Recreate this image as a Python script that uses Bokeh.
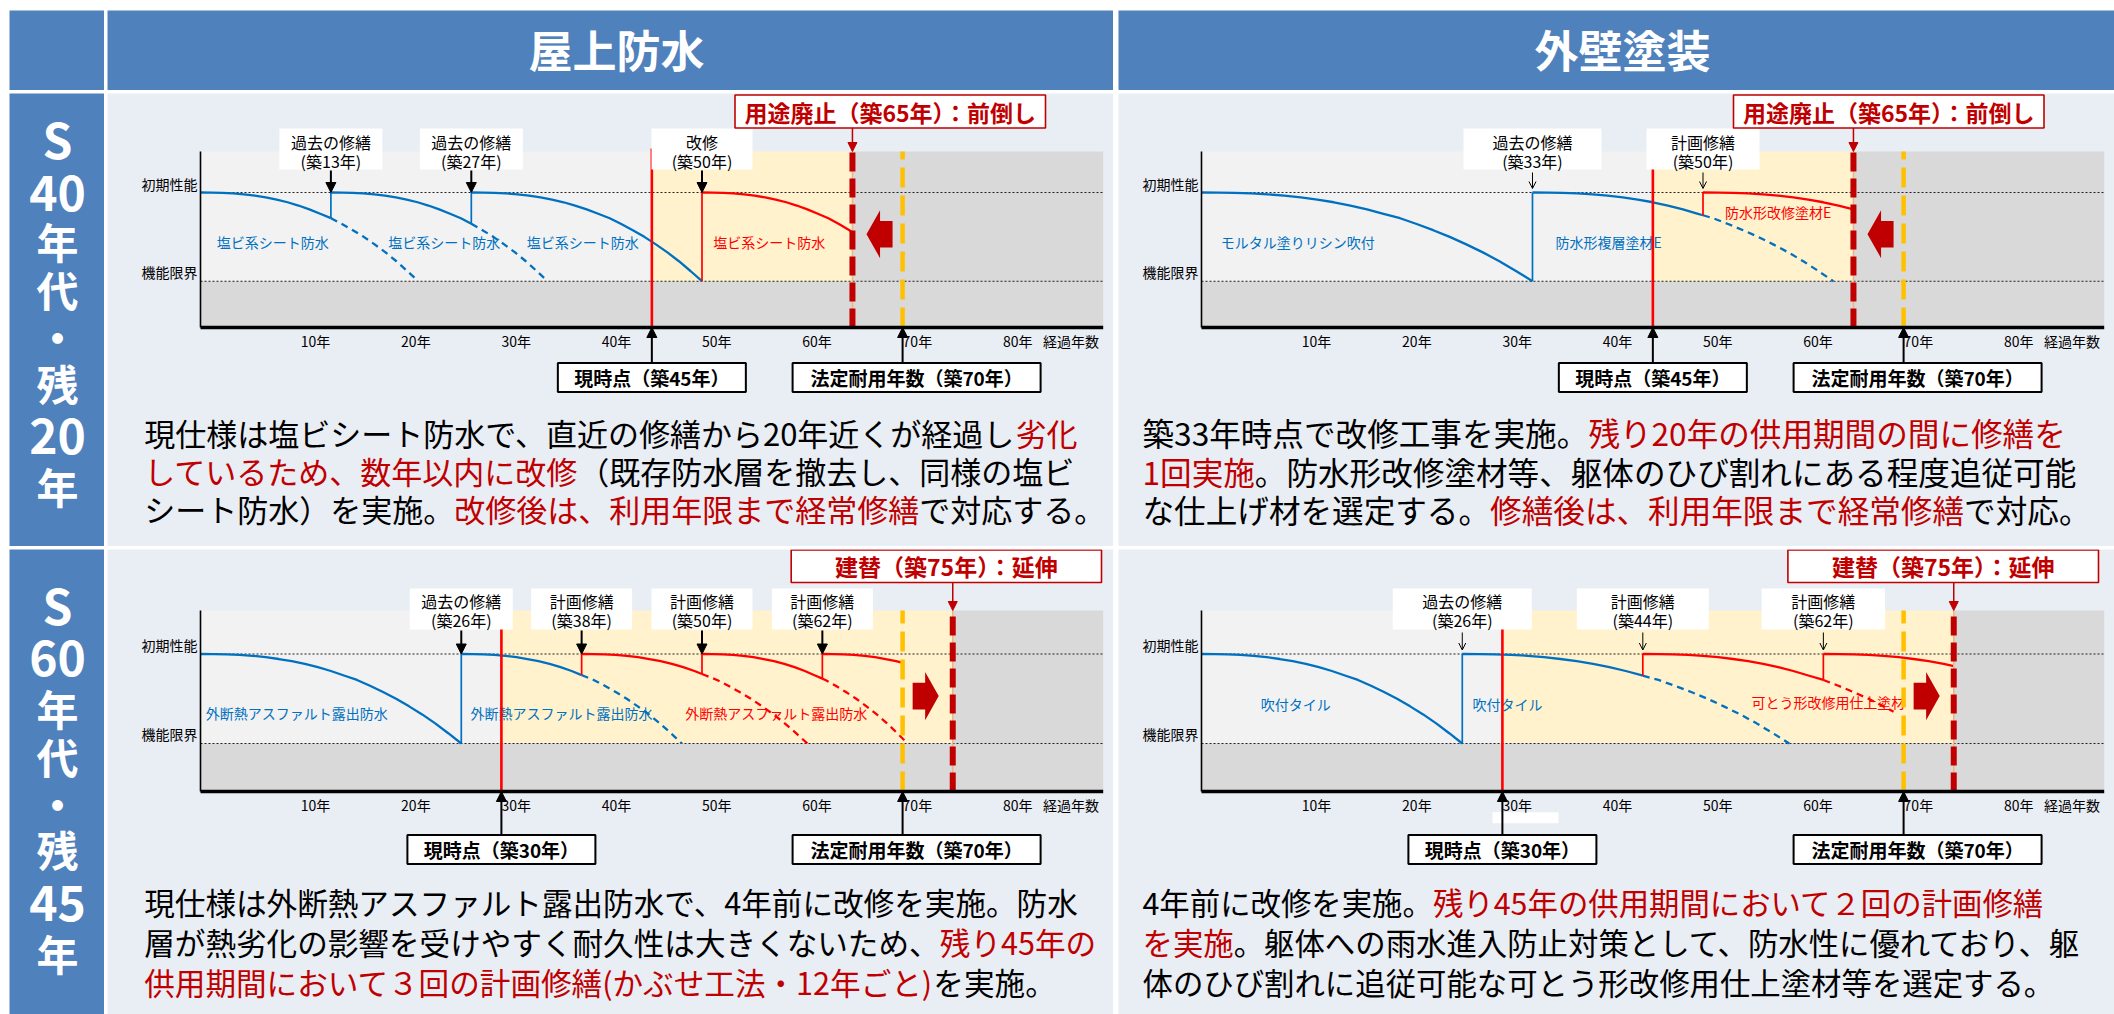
import numpy as np
from bokeh.core.properties import value
from bokeh.embed import file_html
from bokeh.layouts import column, row
from bokeh.models import Arrow, NormalHead, OpenHead, Range1d, Spacer
from bokeh.plotting import figure
from bokeh.resources import INLINE

# ---------------------------------------------------------------- values
COLUMN_TITLES = ["屋上防水", "外壁塗装"]
ROW_TITLES = [["S", "40", "年", "代", "・", "残", "20", "年"],
              ["S", "60", "年", "代", "・", "残", "45", "年"]]

YEAR_TICKS = [10, 20, 30, 40, 50, 60, 70, 80]
YEAR_TICK_LABELS = ["10年", "20年", "30年", "40年", "50年", "60年", "70年", "80年"]
LEGAL_LIFE = 70

# ageing profile of one finish layer: share of its life used -> performance
# (1 = initial performance, 0 = functional limit)
AGE_SHARE = [0.0, 0.05, 0.1, 0.15, 0.2, 0.25, 0.3, 0.35, 0.4, 0.45, 0.5,
             0.55, 0.6, 0.65, 0.7, 0.75, 0.8, 0.85, 0.9, 0.95, 1.0]
PERFORMANCE = [1.0, 0.999, 0.996, 0.99, 0.98, 0.964, 0.944, 0.92, 0.89, 0.853, 0.81,
               0.76, 0.71, 0.645, 0.575, 0.50, 0.415, 0.325, 0.225, 0.115, 0.0]

# 屋上防水 / S40年代
ROOF40_NOW, ROOF40_END = 45, 65
ROOF40_START = [0, 13, 27, 50]
ROOF40_STOP = [13, 27, 50, 65]
ROOF40_LIFE = [21.7, 21.6, 23.0, 21.0]
ROOF40_DASH_TO = [21.7, 34.6, None, None]
ROOF40_PLANNED = [False, False, False, True]
ROOF40_REPAIR = ["過去の修繕", "過去の修繕", "改修"]
ROOF40_LAYER = ["塩ビ系シート防水", "塩ビ系シート防水", "塩ビ系シート防水", "塩ビ系シート防水"]
ROOF40_LAYER_PLANNED = [False, False, False, True]
ROOF40_NOTE = [
    [("現仕様は塩ビシート防水で、直近の修繕から20年近くが経過し", False), ("劣化", True)],
    [("しているため、数年以内に改修", True), ("（既存防水層を撤去し、同様の塩ビ", False)],
    [("シート防水）を実施。", False), ("改修後は、利用年限まで経常修繕", True), ("で対応する。", False)],
]

# 外壁塗装 / S40年代
WALL40_NOW, WALL40_END = 45, 65
WALL40_START = [0, 33, 50]
WALL40_STOP = [33, 50, 65]
WALL40_LIFE = [33.0, 30.0, 30.0]
WALL40_DASH_TO = [None, 63.0, None]
WALL40_PLANNED = [False, False, True]
WALL40_REPAIR = ["過去の修繕", "計画修繕"]
WALL40_LAYER = ["モルタル塗りリシン吹付", "防水形複層塗材E", "防水形改修塗材E"]
WALL40_LAYER_PLANNED = [False, False, True]
WALL40_NOTE = [
    [("築33年時点で改修工事を実施。", False), ("残り20年の供用期間の間に修繕を", True)],
    [("1回実施", True), ("。防水形改修塗材等、躯体のひび割れにある程度追従可能", False)],
    [("な仕上げ材を選定する。", False), ("修繕後は、利用年限まで経常修繕", True), ("で対応。", False)],
]

# 屋上防水 / S60年代
ROOF60_NOW, ROOF60_END = 30, 75
ROOF60_START = [0, 26, 38, 50, 62]
ROOF60_STOP = [26, 38, 50, 62, 70]
ROOF60_LIFE = [26.0, 22.0, 22.5, 20.5, 21.0]
ROOF60_DASH_TO = [None, 48.0, 60.5, 70.5, None]
ROOF60_PLANNED = [False, False, True, True, True]
ROOF60_REPAIR = ["過去の修繕", "計画修繕", "計画修繕", "計画修繕"]
ROOF60_LAYER = ["外断熱アスファルト露出防水", "外断熱アスファルト露出防水", "外断熱アスファルト露出防水"]
ROOF60_LAYER_PLANNED = [False, False, True]
ROOF60_NOTE = [
    [("現仕様は外断熱アスファルト露出防水で、4年前に改修を実施。防水", False)],
    [("層が熱劣化の影響を受けやすく耐久性は大きくないため、", False), ("残り45年の", True)],
    [("供用期間において３回の計画修繕(かぶせ工法・12年ごと)", True), (" を実施。", False)],
]

# 外壁塗装 / S60年代
WALL60_NOW, WALL60_END = 30, 75
WALL60_START = [0, 26, 44, 62]
WALL60_STOP = [26, 44, 62, 75]
WALL60_LIFE = [26.0, 32.6, 30.0, 30.0]
WALL60_DASH_TO = [None, 58.6, 69.0, None]
WALL60_PLANNED = [False, False, True, True]
WALL60_REPAIR = ["過去の修繕", "計画修繕", "計画修繕"]
WALL60_LAYER = ["吹付タイル", "吹付タイル", "可とう形改修用仕上塗材"]
WALL60_LAYER_PLANNED = [False, False, True]
WALL60_NOTE = [
    [("4年前に改修を実施。", False), ("残り45年の供用期間において２回の計画修繕", True)],
    [("を実施", True), ("。躯体への雨水進入防止対策として、防水性に優れており、躯", False)],
    [("体のひび割れに追従可能な可とう形改修用仕上塗材等を選定する。", False)],
]

# ---------------------------------------------------------------- styles
JP = value("Noto Sans CJK JP")
HEAD_BLUE = "#4f81bd"
CELL_BG = "#e9edf4"
LINE_BLUE = "#0070c0"
LINE_RED = "#ff0000"
DARK_RED = "#c00000"
AMBER = "#ffc000"
ZONE_PAST = "#f2f2f2"
ZONE_FUTURE = "#fff2cc"
ZONE_OUT = "#d9d9d9"

# ---------------------------------------------------------------- layout
PAGE_W = 2114
TOP_GAP = 10
HEAD_H = 80
ROW_GAP = 3
ROW_H = [453, 465]
LEFT_PAD = 9
SIDE_W = 95
GAP_A = 3
GAP_B = 5
PANEL_W = [1006, 996]
PPY = 10.03          # pixels per year on every chart
PLOT_END = 90

ROW_GEOM = [
    dict(y_init=99, unit=88.7, top_px=58, axis_px=234, repair_box=(35, 76),
         fate_box_y=(1.5, 34.5), status_box=(269.5, 298.5), note_y=[338.7, 377.0, 415.3],
         side_y=[44, 99, 147, 195, 242, 289, 342, 392], repair_text=(13.5, 32)),
    dict(y_init=104.5, unit=89.5, top_px=61, axis_px=242, repair_box=(39, 80),
         fate_box_y=(0.5, 33), status_box=(285.5, 314.5), note_y=[352.7, 392.7, 432.7],
         side_y=[54, 108, 158, 206, 253, 299, 353, 403], repair_text=(12.5, 31)),
]
COL_GEOM = [dict(plot_left=93, note_x=36.7, filled=True),
            dict(plot_left=83, note_x=24, filled=False)]
NOTE_FONT = [[31, 31.6], [30.6, 30.4]]

SHARE = np.array(AGE_SHARE)
PERF = np.array(PERFORMANCE)


def ageing(start, life, t0, t1):
    ages = start + SHARE * life
    keep = (ages > t0) & (ages < t1)
    xs = np.concatenate([[t0], ages[keep], [t1]])
    return xs, np.interp(xs, ages, PERF)


def em_width(s):
    w = 0.0
    for ch in s:
        if ch.isascii():
            if ch.isdigit():
                w += 0.555
            elif ch in "()":
                w += 0.34
            elif ch == " ":
                w += 0.25
            else:
                w += 0.6
        else:
            w += 1.0
    return w


def blank(width, height, bg, xr, yr):
    p = figure(width=width, height=height, x_range=Range1d(*xr), y_range=Range1d(*yr),
               toolbar_location=None, output_backend="svg", min_border=0,
               x_axis_location=None, y_axis_location=None)
    p.grid.visible = False
    p.outline_line_color = None
    p.background_fill_color = bg
    p.border_fill_color = bg
    return p


def txt(p, x, y, s, size, color="black", align="center", bold=False):
    p.text(x=[x], y=[y], text=[s], text_font=JP, text_font_size=f"{size}px",
           text_color=color, text_align=align, text_baseline="middle",
           text_font_style="bold" if bold else "normal")


def header_cell(width, title):
    p = blank(width, HEAD_H, HEAD_BLUE, (0, width), (HEAD_H, 0))
    if title:
        txt(p, width / 2 + 6, HEAD_H / 2 - 2, title, 44, "white", bold=True)
    return p


def side_cell(r):
    g = ROW_GEOM[r]
    p = blank(SIDE_W, ROW_H[r], HEAD_BLUE, (0, SIDE_W), (ROW_H[r], 0))
    for s, y in zip(ROW_TITLES[r], g["side_y"]):
        latin = s.isascii()
        txt(p, SIDE_W / 2 + 0.5, y, s, 48 if latin else 42, "white", bold=True)
    return p


def chart_panel(r, c, now, end, start, stop, life, dash_to, planned,
                repair_titles, layer_names, layer_planned, layer_pos, note,
                repair_widths, fate_box_x, fate_title, mask=None):
    g, cg = ROW_GEOM[r], COL_GEOM[c]
    W, H = PANEL_W[c], ROW_H[r]
    x0 = -cg["plot_left"] / PPY
    x1 = (W - cg["plot_left"]) / PPY
    y1 = 1 + g["y_init"] / g["unit"]
    y0 = 1 - (H - g["y_init"]) / g["unit"]
    p = blank(W, H, CELL_BG, (x0, x1), (y0, y1))

    def X(px):
        return x0 + px / PPY

    def Y(py):
        return y1 - py / g["unit"]

    top, ax = Y(g["top_px"]), Y(g["axis_px"])

    # zones
    p.quad(left=[0], right=[now], bottom=[0], top=[top], fill_color=ZONE_PAST, line_color=None)
    p.quad(left=[now], right=[end], bottom=[0], top=[top], fill_color=ZONE_FUTURE, line_color=None)
    p.quad(left=[end, 0], right=[PLOT_END, end], bottom=[ax, ax], top=[top, 0],
           fill_color=ZONE_OUT, line_color=None)
    if mask is not None:
        p.quad(left=[X(mask[0])], right=[X(mask[1])], bottom=[Y(mask[3])], top=[Y(mask[2])],
               fill_color="white", line_color=None)

    # reference levels
    for lvl in (1.0, 0.0):
        p.line([0, PLOT_END], [lvl, lvl], line_color="#222222", line_width=1.1, line_dash="2 2")

    # layer performance curves
    for k in range(len(start)):
        colour = LINE_RED if planned[k] else LINE_BLUE
        xs, ys = ageing(start[k], life[k], start[k], min(stop[k], start[k] + life[k]))
        p.line(xs, ys, line_color=colour, line_width=2.3)
        if dash_to[k] is not None:
            xs, ys = ageing(start[k], life[k], stop[k], dash_to[k])
            p.line(xs, ys, line_color=colour, line_width=2.3, line_dash="7 5")
        if k > 0:
            before = np.interp(start[k], start[k - 1] + SHARE * life[k - 1], PERF)
            p.line([start[k], start[k]], [before, 1.0], line_color=colour, line_width=1.7)

    # layer names
    for name, pl, (lx, ly) in zip(layer_names, layer_planned, layer_pos):
        txt(p, lx, ly, name, 14, LINE_RED if pl else LINE_BLUE)

    # legal life and end-of-use lines
    p.line([LEGAL_LIFE, LEGAL_LIFE], [ax, top], line_color=AMBER, line_width=4.5, line_dash="20 8")
    p.line([end, end], [ax, top], line_color="#f4b183", line_width=1.5)
    p.line([end, end], [ax, top], line_color=DARK_RED, line_width=6, line_dash="19 7")

    # block arrow between legal life and end of use
    d = 1 if end > LEGAL_LIFE else -1
    gap = abs(end - LEGAL_LIFE)
    tail = LEGAL_LIFE + d * 0.2 * gap
    tip = LEGAL_LIFE + d * 0.72 * gap
    neck = tail + (tip - tail) * 0.48
    cy = 0.53
    sh, hh = 0.15, 0.27
    p.patch([tail, neck, neck, tip, neck, neck, tail],
            [cy - sh, cy - sh, cy - hh, cy, cy + hh, cy + sh, cy + sh],
            fill_color=DARK_RED, line_color=None)

    # current point line
    p.line([now, now], [ax, Y(g["top_px"] - 3)], line_color=LINE_RED, line_width=2.6)

    # axes
    p.line([0, 0], [ax, top], line_color="black", line_width=1.6)
    p.line([0, PLOT_END], [ax, ax], line_color="black", line_width=3.6)
    p.text(x=YEAR_TICKS, y=[Y(g["axis_px"] + 13)] * len(YEAR_TICKS), text=YEAR_TICK_LABELS,
           text_font=JP, text_font_size="14px", text_align="left", text_baseline="middle",
           text_color="black")
    txt(p, 84.0, Y(g["axis_px"] + 13), "経過年数", 14, align="left")
    txt(p, X(cg["plot_left"] - 3), Y(g["y_init"] - 9), "初期性能", 14, align="right")
    txt(p, X(cg["plot_left"] - 3), Y(g["y_init"] + g["unit"] - 9.5), "機能限界", 14, align="right")

    # repair call-outs
    b0, b1 = g["repair_box"]
    for title, yr, bw in zip(repair_titles, start[1:], repair_widths):
        cx = yr
        half = bw / 2 / PPY
        p.quad(left=[cx - half], right=[cx + half], bottom=[Y(b1)], top=[Y(b0)],
               fill_color="white", line_color=None)
        txt(p, cx, Y(b0 + g["repair_text"][0]), title, 16)
        txt(p, cx, Y(b0 + g["repair_text"][1]), f"(築{yr}年)", 16)
        if cg["filled"]:
            p.add_layout(Arrow(end=NormalHead(size=10, fill_color="black", line_color="black"),
                               x_start=yr, y_start=Y(b1 + 1), x_end=yr, y_end=1.0,
                               line_color="black", line_width=2))
        else:
            p.add_layout(Arrow(end=OpenHead(size=7, line_color="black", line_width=1),
                               x_start=yr, y_start=Y(b1 + 3), x_end=yr, y_end=Y(g["y_init"] - 4),
                               line_color="black", line_width=1))

    # end-of-use call-out
    fy0, fy1 = g["fate_box_y"]
    p.quad(left=[X(fate_box_x[0])], right=[X(fate_box_x[1])], bottom=[Y(fy1)], top=[Y(fy0)],
           fill_color="white", line_color=DARK_RED, line_width=1.6)
    txt(p, X((fate_box_x[0] + fate_box_x[1]) / 2), Y((fy0 + fy1) / 2), fate_title, 23, DARK_RED, bold=True)
    p.add_layout(Arrow(end=NormalHead(size=9, fill_color=DARK_RED, line_color=DARK_RED),
                       x_start=end, y_start=Y(fy1), x_end=end, y_end=top,
                       line_color=DARK_RED, line_width=1.5))

    # status call-outs below the axis
    s0, s1 = g["status_box"]
    for label, yr, bw, shift in ((f"現時点（築{now}年）", now, 188, 0),
                                 (f"法定耐用年数（築{LEGAL_LIFE}年）", LEGAL_LIFE, 248, 14)):
        cx = yr + shift / PPY
        half = bw / 2 / PPY
        p.quad(left=[cx - half], right=[cx + half], bottom=[Y(s1)], top=[Y(s0)],
               fill_color="white", line_color="black", line_width=2)
        txt(p, cx, Y((s0 + s1) / 2), label, 19, bold=True)
        p.add_layout(Arrow(end=NormalHead(size=10, fill_color="black", line_color="black"),
                           x_start=yr, y_start=Y(s0), x_end=yr, y_end=ax,
                           line_color="black", line_width=2))

    # explanatory note
    fs = NOTE_FONT[r][c]
    for line, ly in zip(note, g["note_y"]):
        x = X(cg["note_x"])
        for s, emph in line:
            txt(p, x, Y(ly), s, fs, DARK_RED if emph else "black", align="left")
            x += em_width(s) * fs / PPY
    return p


panels = [
    [chart_panel(0, 0, ROOF40_NOW, ROOF40_END, ROOF40_START, ROOF40_STOP, ROOF40_LIFE,
                 ROOF40_DASH_TO, ROOF40_PLANNED, ROOF40_REPAIR, ROOF40_LAYER,
                 ROOF40_LAYER_PLANNED, [(7.2, 0.44), (24.3, 0.44), (38.1, 0.44), (56.7, 0.44)],
                 ROOF40_NOTE, [103, 103, 101], (627.5, 938),
                 f"用途廃止（築{ROOF40_END}年）：前倒し"),
     chart_panel(0, 1, WALL40_NOW, WALL40_END, WALL40_START, WALL40_STOP, WALL40_LIFE,
                 WALL40_DASH_TO, WALL40_PLANNED, WALL40_REPAIR, WALL40_LAYER,
                 WALL40_LAYER_PLANNED, [(9.6, 0.44), (40.6, 0.44), (57.5, 0.78)],
                 WALL40_NOTE, [138, 113], (615, 925.5),
                 f"用途廃止（築{WALL40_END}年）：前倒し")],
    [chart_panel(1, 0, ROOF60_NOW, ROOF60_END, ROOF60_START, ROOF60_STOP, ROOF60_LIFE,
                 ROOF60_DASH_TO, ROOF60_PLANNED, ROOF60_REPAIR, ROOF60_LAYER,
                 ROOF60_LAYER_PLANNED, [(9.6, 0.34), (36.0, 0.34), (57.4, 0.34)],
                 ROOF60_NOTE, [103, 101, 101, 101], (683.7, 994),
                 f"建替（築{ROOF60_END}年）：延伸"),
     chart_panel(1, 1, WALL60_NOW, WALL60_END, WALL60_START, WALL60_STOP, WALL60_LIFE,
                 WALL60_DASH_TO, WALL60_PLANNED, WALL60_REPAIR, WALL60_LAYER,
                 WALL60_LAYER_PLANNED, [(9.4, 0.44), (30.5, 0.44), (62.5, 0.46)],
                 WALL60_NOTE, [139, 132, 123.5], (669.4, 980),
                 f"建替（築{WALL60_END}年）：延伸", mask=(374, 440, 262.7, 273.7))],
]

head_row = row(Spacer(width=LEFT_PAD, height=HEAD_H), header_cell(SIDE_W, ""),
               Spacer(width=GAP_A, height=HEAD_H), header_cell(PANEL_W[0], COLUMN_TITLES[0]),
               Spacer(width=GAP_B, height=HEAD_H), header_cell(PANEL_W[1], COLUMN_TITLES[1]))
body_rows = []
for r in range(2):
    body_rows.append(row(Spacer(width=LEFT_PAD, height=ROW_H[r]), side_cell(r),
                         Spacer(width=GAP_A, height=ROW_H[r]), panels[r][0],
                         Spacer(width=GAP_B, height=ROW_H[r]), panels[r][1]))

page = column(Spacer(width=PAGE_W, height=TOP_GAP), head_row,
              Spacer(width=PAGE_W, height=ROW_GAP), body_rows[0],
              Spacer(width=PAGE_W, height=ROW_GAP), body_rows[1])

open("out.html", "w").write(file_html(page, INLINE))
